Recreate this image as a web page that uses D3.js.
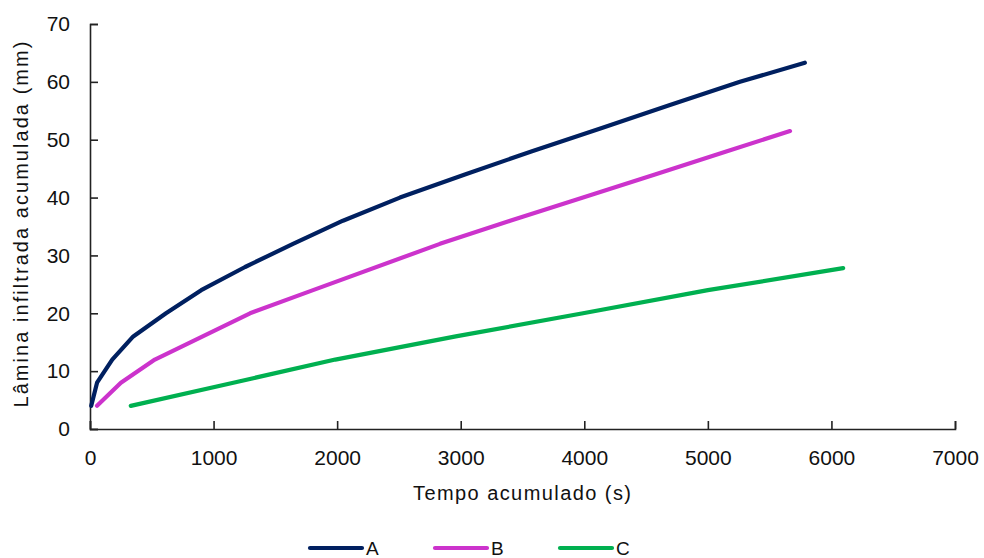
<!DOCTYPE html>
<html>
<head>
<meta charset="utf-8">
<script src="https://cdn.jsdelivr.net/npm/d3@7"></script>
<style>
  html, body { margin: 0; padding: 0; background: #fff; }
  svg { display: block; font-family: "Liberation Sans", Arial, sans-serif; }
</style>
</head>
<body>
<svg id="chart" width="984" height="558"></svg>
<script>
// Cumulative infiltration (mm) against cumulative time (s) for three sites
const seriesNames = ["A", "B", "C"];
const seriesColors = ["#002060", "#CC33CC", "#00B050"];

const timeA = [10, 57, 180, 350, 615, 900, 1255, 1643, 2047, 2508, 3034, 3577, 4136, 4693, 5260, 5785];
const laminaA = [4, 8, 12, 16, 20, 24, 28, 32, 36, 40, 44, 48, 52, 56, 60, 63.3];

const timeB = [57, 250, 525, 1295, 1805, 2832, 3400, 3990, 4572, 5155, 5665];
const laminaB = [4, 8, 12, 20, 24, 32, 36, 40, 44, 48, 51.5];

const timeC = [330, 1160, 1985, 2960, 3990, 5000, 6095];
const laminaC = [4, 8, 12, 16, 20, 24, 27.8];

const xTicks = [0, 1000, 2000, 3000, 4000, 5000, 6000, 7000];
const yTicks = [0, 10, 20, 30, 40, 50, 60, 70];

const xTitle = "Tempo acumulado (s)";
const yTitle = "Lâmina infiltrada acumulada (mm)";

const series = [
  { name: seriesNames[0], color: seriesColors[0], t: timeA, v: laminaA },
  { name: seriesNames[1], color: seriesColors[1], t: timeB, v: laminaB },
  { name: seriesNames[2], color: seriesColors[2], t: timeC, v: laminaC }
];

const svg = d3.select("#chart");
const plot = { left: 90, right: 955, top: 24, bottom: 429 };

const x = d3.scaleLinear().domain([0, 7000]).range([plot.left, plot.right]);
const y = d3.scaleLinear().domain([0, 70]).range([plot.bottom, plot.top]);

// Axes with inward ticks
const xAxis = svg.append("g")
  .attr("transform", `translate(0,${plot.bottom})`)
  .call(d3.axisBottom(x).tickValues(xTicks).tickFormat(d3.format("d"))
    .tickSizeInner(-8).tickSizeOuter(-8).tickPadding(18));
const yAxis = svg.append("g")
  .attr("transform", `translate(${plot.left},0)`)
  .call(d3.axisLeft(y).tickValues(yTicks).tickFormat(d3.format("d"))
    .tickSizeInner(-8).tickSizeOuter(-8).tickPadding(20));

[xAxis, yAxis].forEach(g => {
  g.selectAll("path.domain").attr("stroke", "#222").attr("stroke-width", 1.6);
  g.selectAll(".tick line").attr("stroke", "#222").attr("stroke-width", 1.6);
  g.selectAll(".tick text").attr("font-size", 21).attr("fill", "#111")
    .attr("font-family", "'Liberation Sans', Arial, sans-serif");
});
xAxis.selectAll(".tick text").attr("dy", "0.85em");

// Axis titles
svg.append("text")
  .attr("x", 522).attr("y", 500)
  .attr("text-anchor", "middle").attr("font-size", 20).attr("fill", "#111")
  .attr("textLength", 218)
  .text(xTitle);
svg.append("text")
  .attr("transform", `translate(28,${(plot.top + plot.bottom) / 2 - 2}) rotate(-90)`)
  .attr("text-anchor", "middle").attr("font-size", 20).attr("fill", "#111")
  .attr("textLength", 366)
  .text(yTitle);

// Series lines
const line = d3.line().x(d => x(d[0])).y(d => y(d[1]));
series.forEach(s => {
  svg.append("path")
    .datum(s.t.map((t, i) => [t, s.v[i]]))
    .attr("fill", "none")
    .attr("stroke", s.color)
    .attr("stroke-width", 4.2)
    .attr("stroke-linejoin", "round")
    .attr("stroke-linecap", "round")
    .attr("d", line);
});

// Legend
const legend = svg.append("g").attr("transform", "translate(310,548)");
series.forEach((s, i) => {
  const g = legend.append("g").attr("transform", `translate(${i * 125},0)`);
  g.append("line").attr("x1", 0).attr("x2", 52).attr("y1", 0).attr("y2", 0)
    .attr("stroke", s.color).attr("stroke-width", 4.2).attr("stroke-linecap", "round");
  g.append("text").attr("x", 56).attr("y", 7).attr("font-size", 19).attr("fill", "#111").text(s.name);
});
</script>
</body>
</html>
